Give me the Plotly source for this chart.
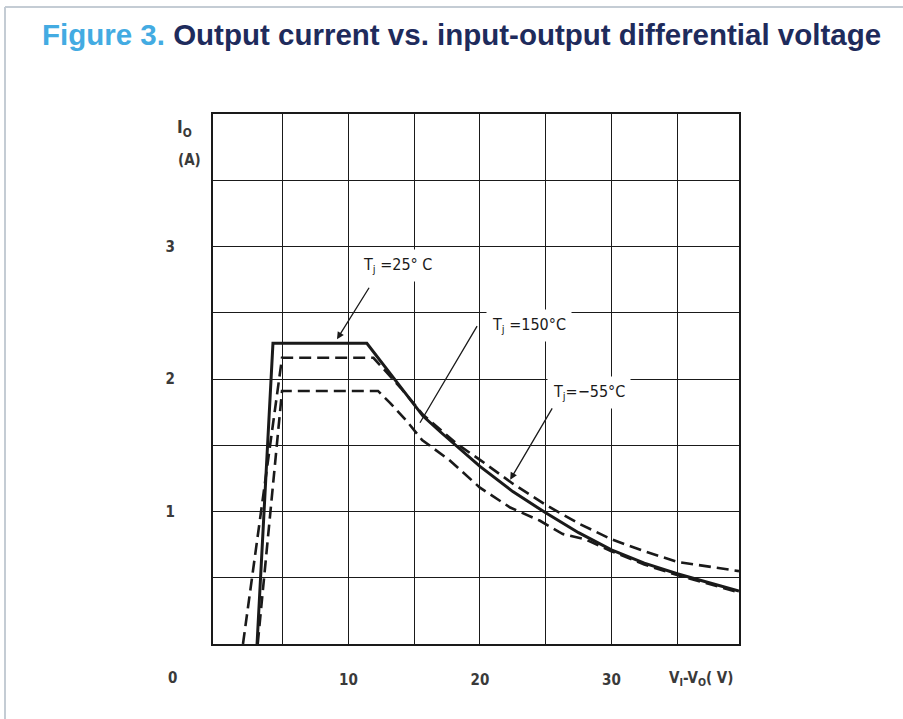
import plotly.graph_objects as go

# ---------------- data ----------------
vdiff_25 = [3.05, 4.26, 11.4, 15.67, 17.0, 18.25, 20.0, 22.5, 25.0, 27.5, 30.0, 32.5, 35.0, 37.5, 39.7]
io_25 = [0.0, 2.27, 2.27, 1.72, 1.60, 1.49, 1.34, 1.15, 0.99, 0.84, 0.71, 0.61, 0.53, 0.46, 0.40]

vdiff_m55 = [1.98, 4.95, 11.9, 14.0, 15.67, 18.25, 20.0, 22.5, 25.0, 27.5, 30.0, 32.5, 35.0, 37.5, 39.7]
io_m55 = [0.0, 2.16, 2.16, 1.93, 1.73, 1.51, 1.39, 1.21, 1.05, 0.91, 0.79, 0.70, 0.62, 0.58, 0.55]

vdiff_150 = [3.1, 4.95, 12.25, 13.16, 14.45, 15.6, 17.65, 20.0, 22.3, 24.57, 26.3, 28.0, 30.0, 32.5, 35.0, 37.5, 39.7]
io_150 = [0.0, 1.91, 1.91, 1.82, 1.68, 1.54, 1.39, 1.18, 1.03, 0.93, 0.83, 0.79, 0.70, 0.60, 0.52, 0.45, 0.39]

x_grid = [5, 10, 15, 20, 25, 30, 35]
x_ticktext = ["", "10", "", "20", "", "30", ""]
y_grid = [0.5, 1.0, 1.5, 2.0, 2.5, 3.0, 3.5]
y_ticktext = ["", "1", "", "2", "", "3", ""]

title_prefix = "Figure 3."
title_main = "Output current vs. input-output differential voltage"
label_25 = "T<sub>j</sub> =25° C"
label_150 = "T<sub>j</sub> =150°C"
label_m55 = "T<sub>j</sub>=−55°C"

# ---------------- layout helpers ----------------
W, H = 903, 719
L, R, T, B = 213, 164, 114, 75
PW, PH = W - L - R, H - T - B


def paper(xp, yp):
    return (xp - L) / PW, (H - B - yp) / PH


FONT = "DejaVu Sans Condensed, Liberation Sans, sans-serif"
INK = "#1a1a1a"
TXT = "#3a3a3a"

fig = go.Figure()

fig.add_trace(go.Scatter(x=vdiff_m55, y=io_m55, mode="lines", name="Tj=-55°C",
                         line=dict(color=INK, width=2.6, dash="12px,6px")))
fig.add_trace(go.Scatter(x=vdiff_150, y=io_150, mode="lines", name="Tj=150°C",
                         line=dict(color=INK, width=2.6, dash="12px,6px")))
fig.add_trace(go.Scatter(x=vdiff_25, y=io_25, mode="lines", name="Tj=25°C",
                         line=dict(color=INK, width=3.0)))

fig.update_layout(
    width=W, height=H,
    margin=dict(l=L, r=R, t=T, b=B, autoexpand=False),
    paper_bgcolor="white", plot_bgcolor="white",
    showlegend=False,
    title=dict(
        text=f'<span style="color:#43abe2">{title_prefix}</span> {title_main}',
        font=dict(family="Liberation Sans, Arial, sans-serif", size=29.5, color="#1e2b5c", weight="bold"),
        xref="container", yref="container", x=42 / W, xanchor="left",
        y=1 - 35 / H, yanchor="middle",
    ),
    xaxis=dict(range=[-0.3, 39.7], tickvals=x_grid, ticktext=x_ticktext,
               showgrid=True, gridcolor=INK, gridwidth=1.3, zeroline=False,
               showline=True, linecolor=INK, linewidth=2, mirror=True,
               ticks="", ticklabelstandoff=21,
               tickfont=dict(family=FONT, size=15, color=TXT, weight="bold")),
    yaxis=dict(range=[0, 4], tickvals=y_grid, ticktext=y_ticktext,
               showgrid=True, gridcolor=INK, gridwidth=1.3, zeroline=False,
               showline=True, linecolor=INK, linewidth=2, mirror=True,
               ticks="", ticklabelstandoff=33,
               tickfont=dict(family=FONT, size=15, color=TXT, weight="bold")),
)

# outer frame lines (light gray) at top and left
fx0, fy0 = paper(5, 7)
fx1, fy1 = paper(W + 10, H + 10)
fig.add_shape(type="line", xref="paper", yref="paper", x0=fx0, y0=fy0, x1=fx1, y1=fy0,
              line=dict(color="#c4ccd4", width=2))
fig.add_shape(type="line", xref="paper", yref="paper", x0=fx0, y0=fy0, x1=fx0, y1=fy1,
              line=dict(color="#c4ccd4", width=2))

# axis corner texts
for txt, (xp, yp), size in [("0", (172, 678), 15),
                            ("V<sub>I</sub>-V<sub>O</sub>( V)", (701, 678), 15),
                            ("I<sub>O</sub>", (184, 128), 17),
                            ("(A)", (189, 160), 15)]:
    ax_, ay_ = paper(xp, yp)
    fig.add_annotation(text=txt, xref="paper", yref="paper", x=ax_, y=ay_,
                       showarrow=False, xanchor="center", yanchor="middle",
                       font=dict(family=FONT, size=size, color=TXT, weight="bold"))

# curve labels (white box masks grid, as in the reference)
for txt, (xp, yp) in [(label_25, (397, 265)), (label_150, (529, 325)), (label_m55, (589, 392))]:
    ax_, ay_ = paper(xp, yp)
    fig.add_annotation(text=txt, xref="paper", yref="paper", x=ax_, y=ay_,
                       showarrow=False, xanchor="center", yanchor="middle",
                       bgcolor="white", borderpad=5,
                       font=dict(family=FONT, size=16, color=INK))

# leader arrows (head on curve, tail near label)
for head, tail, hd in [((9.13, 2.30), (11.64, 2.70), 2),
                       ((15.44, 1.67), (19.85, 2.41), 0),
                       ((22.3, 1.24), (25.56, 1.79), 2)]:
    fig.add_annotation(x=head[0], y=head[1], ax=tail[0], ay=tail[1],
                       xref="x", yref="y", axref="x", ayref="y", text="",
                       showarrow=True, arrowhead=hd, arrowsize=1.1, arrowwidth=1.3,
                       arrowcolor=INK)

fig.write_html("out.html")
